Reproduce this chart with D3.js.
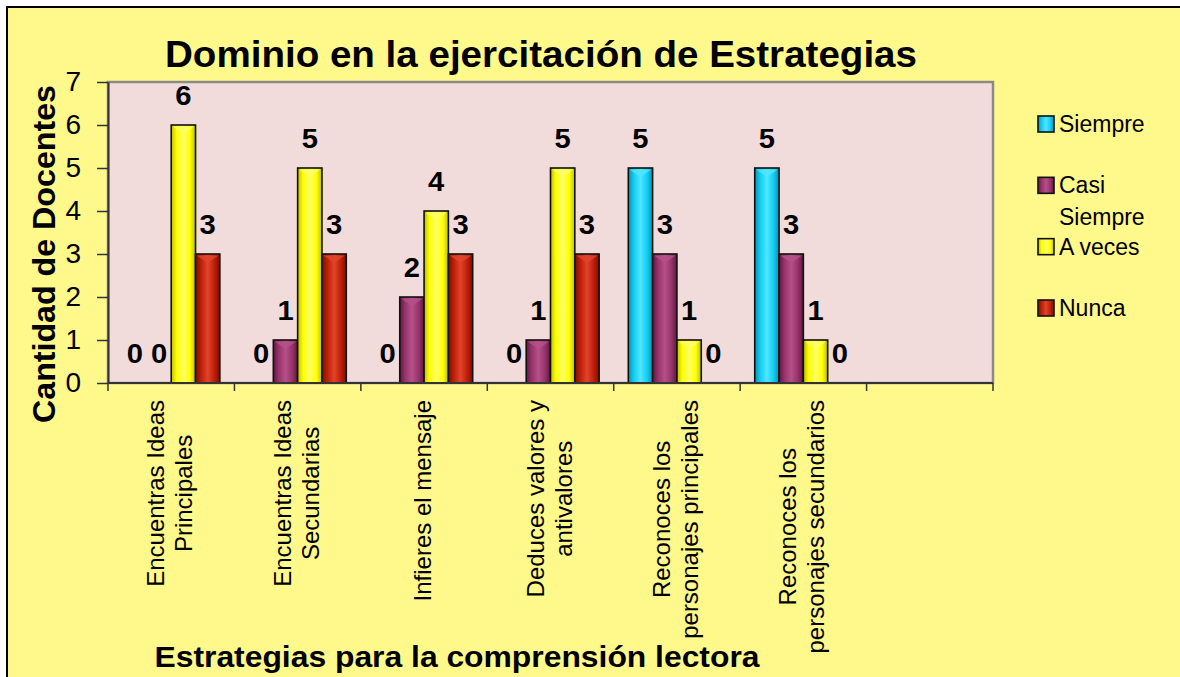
<!DOCTYPE html>
<html>
<head>
<meta charset="utf-8">
<script src="https://cdn.jsdelivr.net/npm/d3@7"></script>
<style>
  html, body { margin: 0; padding: 0; background: #ffffff; overflow: hidden; }
  svg { display: block; font-family: "Liberation Sans", Arial, sans-serif; }
</style>
</head>
<body>
<svg id="chart" width="1180" height="677"></svg>
<script>
// categories (last slot is empty in the original sheet)
const categories = [
  ["Encuentras Ideas", "Principales"],
  ["Encuentras Ideas", "Secundarias"],
  ["Infieres el mensaje"],
  ["Deduces valores y", "antivalores"],
  ["Reconoces los", "personajes principales"],
  ["Reconoces los", "personajes secundarios"],
  []
];
const seriesNames = ["Siempre", "Casi Siempre", "A veces", "Nunca"];
const siempre     = [0, 0, 0, 0, 5, 5];
const casiSiempre = [0, 1, 2, 1, 3, 3];
const aVeces      = [6, 5, 4, 5, 1, 1];
const nunca       = [3, 3, 3, 3, 0, 0];
const yTicks = [0, 1, 2, 3, 4, 5, 6, 7];

const seriesValues = [siempre, casiSiempre, aVeces, nunca];
const palette = [
  {base: "#12CCF2", light: "#4FE6FF", dark: "#0691AE"},
  {base: "#97336A", light: "#B5508A", dark: "#5E1840"},
  {base: "#FFFF00", light: "#FFFF66", dark: "#BDBD00"},
  {base: "#BE1E08", light: "#E0442A", dark: "#7A1000"}
];

const margin = {top: 82, left: 108, right: 187, bottom: 294};
const width = 1180 - margin.left - margin.right;   // 885
const height = 677 - margin.top - margin.bottom;   // 301

const svg = d3.select("#chart");

// outer chart background
svg.append("rect")
  .attr("x", 7).attr("y", 7)
  .attr("width", 1200).attr("height", 700)
  .attr("fill", "#FFF98C")
  .attr("stroke", "#000").attr("stroke-width", 2);

const defs = svg.append("defs");
palette.forEach((p, i) => {
  const g = defs.append("linearGradient")
    .attr("id", "grad" + i)
    .attr("x1", "0%").attr("x2", "100%").attr("y1", "0%").attr("y2", "0%");
  g.append("stop").attr("offset", "0%").attr("stop-color", p.dark);
  g.append("stop").attr("offset", "22%").attr("stop-color", p.base);
  g.append("stop").attr("offset", "50%").attr("stop-color", p.light);
  g.append("stop").attr("offset", "78%").attr("stop-color", p.base);
  g.append("stop").attr("offset", "100%").attr("stop-color", p.dark);
});

const root = svg.append("g").attr("transform", `translate(${margin.left},${margin.top})`);

// plot area
root.append("rect")
  .attr("width", width).attr("height", height)
  .attr("fill", "#F2DCDB")
  .attr("stroke", "#8a8a8a").attr("stroke-width", 2.5);

const x0 = d3.scaleBand()
  .domain(d3.range(categories.length))
  .range([0, width]);

const x1 = d3.scaleBand()
  .domain(d3.range(seriesNames.length))
  .range([0, x0.bandwidth()])
  .paddingOuter(0.6)
  .paddingInner(0);

const y = d3.scaleLinear().domain([0, 7]).range([height, 0]);

// y axis
const yAxis = root.append("g")
  .call(d3.axisLeft(y).tickValues(yTicks).tickFormat(d3.format("d"))
    .tickSize(11).tickPadding(16).tickSizeOuter(0));
yAxis.select(".domain").attr("stroke", "#333").attr("stroke-width", 2);
yAxis.selectAll(".tick line").attr("stroke", "#333").attr("stroke-width", 1.5);
yAxis.selectAll(".tick text")
  .attr("font-size", 28).attr("fill", "#000")
  .attr("font-family", "'Liberation Sans', Arial, sans-serif");

// bars
const barData = [];
seriesValues.forEach((vals, s) => {
  vals.forEach((v, c) => barData.push({s, c, v}));
});
const barX = d => x0(d.c) + x1(d.s);

const bars = root.append("g").selectAll("g.bar")
  .data(barData)
  .join("g")
  .attr("class", "bar");

bars.filter(d => d.v > 0).append("rect")
  .attr("x", barX)
  .attr("y", d => y(d.v))
  .attr("width", x1.bandwidth())
  .attr("height", d => y(0) - y(d.v))
  .attr("fill", d => `url(#grad${d.s})`)
  .attr("stroke", "#111").attr("stroke-width", 1.6);

// top bevel highlight
bars.filter(d => d.v > 0).append("path")
  .attr("d", d => {
    const bx = barX(d), bw = x1.bandwidth(), by = y(d.v);
    return `M${bx + 1.5},${by + 1.5}L${bx + bw - 1.5},${by + 1.5}L${bx + bw / 2},${by + 9}Z`;
  })
  .attr("fill", d => palette[d.s].light)
  .attr("opacity", 0.85);

// data labels (slightly widened like the original rendering)
bars.append("text")
  .attr("transform", d => `translate(${barX(d) + x1.bandwidth() / 2},${y(d.v) - 20}) scale(1.08,1)`)
  .attr("text-anchor", "middle")
  .attr("font-size", 27).attr("font-weight", "bold")
  .text(d => String(d.v));

// x axis line and boundary ticks
root.append("line")
  .attr("x1", 0).attr("x2", width)
  .attr("y1", height).attr("y2", height)
  .attr("stroke", "#333").attr("stroke-width", 2);
const bounds = x0.domain().map(c => x0(c)).concat([width]);
root.append("g").selectAll("line")
  .data(bounds)
  .join("line")
  .attr("x1", d => d).attr("x2", d => d)
  .attr("y1", height).attr("y2", height + 8)
  .attr("stroke", "#333").attr("stroke-width", 1.5);

// category labels (rotated, top aligned near axis)
const lineH = 28;
categories.forEach((lines, c) => {
  if (!lines.length) return;
  const cx = x0(c) + x0.bandwidth() / 2;
  const g = root.append("g")
    .attr("transform", `translate(${cx},${height + 17}) rotate(-90)`);
  const texts = g.selectAll("text")
    .data(lines)
    .join("text")
    .attr("font-size", 24)
    .attr("text-anchor", "middle")
    .attr("y", (d, i) => (i - (lines.length - 1) / 2) * lineH + 7)
    .text(d => d);
  let maxLen = 0;
  texts.each(function() { maxLen = Math.max(maxLen, this.getComputedTextLength()); });
  texts.attr("x", -maxLen / 2);
});

// titles
svg.append("text")
  .attr("x", 541).attr("y", 67)
  .attr("text-anchor", "middle")
  .attr("font-size", 37).attr("font-weight", "bold")
  .attr("textLength", 752).attr("lengthAdjust", "spacingAndGlyphs")
  .text("Dominio en la ejercitación de Estrategias");

svg.append("text")
  .attr("x", 457).attr("y", 667)
  .attr("text-anchor", "middle")
  .attr("font-size", 29).attr("font-weight", "bold")
  .attr("textLength", 605).attr("lengthAdjust", "spacingAndGlyphs")
  .text("Estrategias para la comprensión lectora");

svg.append("text")
  .attr("transform", "translate(55,254) rotate(-90)")
  .attr("text-anchor", "middle")
  .attr("font-size", 31).attr("font-weight", "bold")
  .attr("textLength", 338).attr("lengthAdjust", "spacingAndGlyphs")
  .text("Cantidad de Docentes");

// legend
const legendY = d3.scaleLinear().domain([0, 3]).range([124, 308]);
const legendLines = [["Siempre"], ["Casi", "Siempre"], ["A veces"], ["Nunca"]];
const legend = svg.append("g").selectAll("g")
  .data(seriesNames)
  .join("g")
  .attr("transform", (d, i) => `translate(1038,${legendY(i)})`);

legend.append("rect")
  .attr("x", 0).attr("y", -8)
  .attr("width", 16).attr("height", 16)
  .attr("fill", (d, i) => `url(#grad${i})`)
  .attr("stroke", "#111").attr("stroke-width", 1.6);

legend.append("text")
  .attr("x", 21).attr("y", 8)
  .attr("font-size", 23)
  .selectAll("tspan")
  .data((d, i) => legendLines[i])
  .join("tspan")
  .attr("x", 21)
  .attr("dy", (d, j) => j === 0 ? 0 : 32)
  .text(d => d);
</script>
</body>
</html>
